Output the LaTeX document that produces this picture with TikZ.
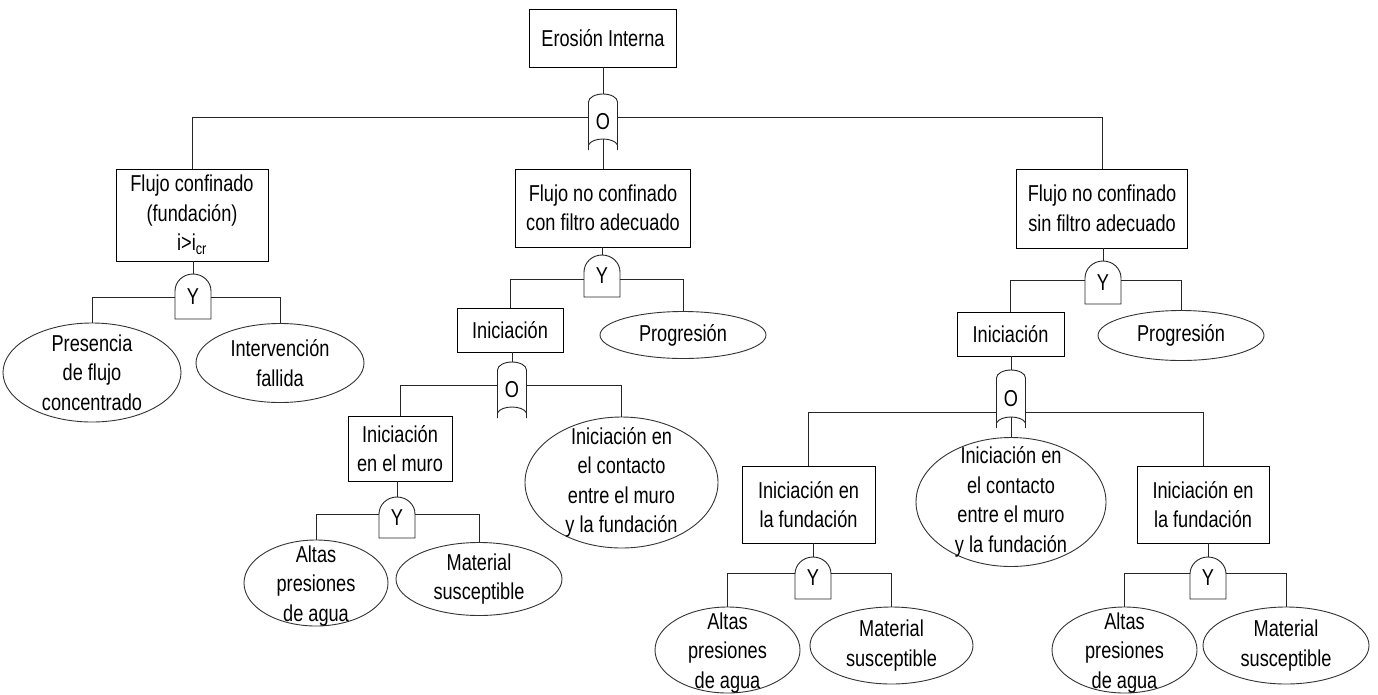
\documentclass[tikz,border=0pt]{standalone}
\usepackage{fontspec}
\setmainfont[FakeStretch=0.79]{Liberation Sans}
\usetikzlibrary{shapes.geometric,calc}

\tikzset{
  base/.style={font=\fontsize{23}{29.5}\selectfont, align=center, inner sep=0pt},
  evbox/.style={base, draw=black, rectangle, line width=0.9pt},
  evell/.style={draw=black!80, ellipse, inner sep=0pt, line width=0.9pt},
  evtxt/.style={base},
  link/.style={line width=0.9pt, draw=black!85},
  gateshape/.style={line width=0.9pt, draw=black!85},
  gatelbl/.style={base, rectangle, inner sep=0pt},
}

% AND gate: name, centre x, top y, bottom y (flat base, domed top)
\newcommand{\andgate}[4]{%
  \pgfmathsetmacro\gxl{#2-18}%
  \pgfmathsetmacro\gxr{#2+18}%
  \pgfmathsetmacro\gys{#3+17}%
  \pgfmathsetmacro\gyk{#3+17-9.4}%
  \pgfmathsetmacro\gxa{#2-9.9}%
  \pgfmathsetmacro\gxb{#2+9.9}%
  \draw[gateshape] (\gxl,#4) -- (\gxl,\gys)
    .. controls (\gxl,\gyk) and (\gxa,#3) .. (#2,#3)
    .. controls (\gxb,#3) and (\gxr,\gyk) .. (\gxr,\gys) -- (\gxr,#4) -- cycle;
  \node[gatelbl, minimum width=36pt, minimum height={(#4)-(#3)}] (#1)
    at (#2,{((#3)+(#4))/2}) {Y};
}

% OR gate: name, centre x, top y, bottom y (domed top, concave base with short tails)
\newcommand{\orgate}[4]{%
  \pgfmathsetmacro\gxl{#2-14.5}%
  \pgfmathsetmacro\gxr{#2+14.5}%
  \pgfmathsetmacro\gys{#3+8}%
  \pgfmathsetmacro\gyk{#3+8-4.4}%
  \pgfmathsetmacro\gxa{#2-8}%
  \pgfmathsetmacro\gxb{#2+8}%
  \pgfmathsetmacro\gyt{#4-5}%
  \pgfmathsetmacro\gyc{#4-13}%
  \pgfmathsetmacro\gxc{#2-11}%
  \pgfmathsetmacro\gxd{#2+11}%
  \draw[gateshape] (\gxl,#4) -- (\gxl,\gys)
    .. controls (\gxl,\gyk) and (\gxa,#3) .. (#2,#3)
    .. controls (\gxb,#3) and (\gxr,\gyk) .. (\gxr,\gys) -- (\gxr,#4);
  \draw[gateshape] (\gxr,\gyt) .. controls (\gxd,\gyc) and (\gxc,\gyc) .. (\gxl,\gyt);
  \node[gatelbl, minimum width=29pt, minimum height={(#4)-(#3)}] (#1)
    at (#2,{((#3)+(#4))/2}) {O};
}

\begin{document}
\begin{tikzpicture}[x=1pt,y=-1pt]
\fill[white] (0,0) rectangle (1378,694);
\useasboundingbox (0,0) rectangle (1378,694);

% ---- events (rectangles) ----
\node[evbox, minimum width=147pt, minimum height=58pt] (E)  at (603,38)    {Erosión Interna};
\node[evbox, minimum width=152pt, minimum height=92pt] (F1) at (192,215)   {Flujo confinado\\(fundación)\\i>i\textsubscript{cr}};
\node[evbox, minimum width=175pt, minimum height=78pt] (F2) at (603,208)   {Flujo no confinado\\con filtro adecuado};
\node[evbox, minimum width=171pt, minimum height=79pt] (F3) at (1102,208.5){Flujo no confinado\\sin filtro adecuado};
\node[evbox, minimum width=106pt, minimum height=44pt] (I2) at (510,330)   {Iniciación};
\node[evbox, minimum width=107pt, minimum height=44pt] (I3) at (1010.5,334){Iniciación};
\node[evbox, minimum width=104pt, minimum height=65pt] (M)  at (400,448.5) {Iniciación\\en el muro};
\node[evbox, minimum width=133pt, minimum height=77pt] (FL) at (808.5,504.5){Iniciación en\\la fundación};
\node[evbox, minimum width=132pt, minimum height=77pt] (FR) at (1203,504.5){Iniciación en\\la fundación};

% ---- basic events (ellipses) ----
\node[evell, minimum width=178pt, minimum height=99pt]  (P1)  at (92,372.5)   {};
\node[evell, minimum width=168pt, minimum height=79pt]  (P2)  at (280,363)    {};
\node[evell, minimum width=166pt, minimum height=47pt]  (PG2) at (683,335)    {};
\node[evell, minimum width=166pt, minimum height=50pt]  (PG3) at (1181,335.5) {};
\node[evell, minimum width=193pt, minimum height=131pt] (C2)  at (621.5,482.5){};
\node[evell, minimum width=190pt, minimum height=129pt] (C3)  at (1011,502)   {};
\node[evell, minimum width=144pt, minimum height=86pt]  (A1)  at (316,583)    {};
\node[evell, minimum width=166pt, minimum height=73pt]  (S1)  at (479,579)    {};
\node[evell, minimum width=145pt, minimum height=86pt]  (A2)  at (727.5,650)  {};
\node[evell, minimum width=163pt, minimum height=77pt]  (S2)  at (891.5,645.5){};
\node[evell, minimum width=145pt, minimum height=86pt]  (A3)  at (1124.5,650) {};
\node[evell, minimum width=166pt, minimum height=77pt]  (S3)  at (1286,645.5) {};

\node[evtxt] at (P1)  {Presencia\\de flujo\\concentrado};
\node[evtxt] at (P2)  {Intervención\\fallida};
\node[evtxt] at (PG2) {Progresión};
\node[evtxt] at (PG3) {Progresión};
\node[evtxt] at (C2)  {Iniciación en\\el contacto\\entre el muro\\y la fundación};
\node[evtxt] at (C3)  {Iniciación en\\el contacto\\entre el muro\\y la fundación};
\node[evtxt] at ([yshift=-3pt]A1.center) {Altas\\presiones\\de agua};
\node[evtxt] at (S1)  {Material\\susceptible};
\node[evtxt] at ([yshift=-3pt]A2.center) {Altas\\presiones\\de agua};
\node[evtxt] at (S2)  {Material\\susceptible};
\node[evtxt] at ([yshift=-3pt]A3.center) {Altas\\presiones\\de agua};
\node[evtxt] at (S3)  {Material\\susceptible};

% ---- gates ----
\orgate{G0}{603}{94}{150}
\andgate{G1}{193}{274}{319}
\andgate{GA2}{602}{255}{297}
\orgate{G2}{512}{362}{418}
\andgate{GM}{397}{497}{538}
\andgate{GA3}{1103}{261}{304}
\orgate{G3}{1011}{370}{428}
\andgate{GL}{813}{557}{599}
\andgate{GR}{1208}{557}{599}

% branch levels of each gate
\coordinate (b0)  at (603,117);
\coordinate (b1)  at (193,297);
\coordinate (bA2) at (602,279);
\coordinate (b2)  at (512,385);
\coordinate (bM)  at (397,514);
\coordinate (bA3) at (1103,280);
\coordinate (b3)  at (1011,412);
\coordinate (bL)  at (813,573);
\coordinate (bR)  at (1208,573);

% ---- connectors ----
\draw[link] (E.south) -- (G0.north);
\draw[link] (b0 -| G0.west) -| (F1.north);
\draw[link] (b0 -| G0.east) -| (F3.north);
\draw[link] ([yshift=11pt]G0.south) -- (F2.north);

\draw[link] (F1.south -| G1.north) -- (G1.north);
\draw[link] (b1 -| G1.west) -| (P1.north);
\draw[link] (b1 -| G1.east) -| (P2.north);

\draw[link] (F2.south -| GA2.north) -- (GA2.north);
\draw[link] (bA2 -| GA2.west) -| (I2.north);
\draw[link] (bA2 -| GA2.east) -| (PG2.north);

\draw[link] (I2.south -| G2.north) -- (G2.north);
\draw[link] (b2 -| G2.west) -| (M.north);
\draw[link] (b2 -| G2.east) -| (C2.north);

\draw[link] (M.south -| GM.north) -- (GM.north);
\draw[link] (bM -| GM.west) -| (A1.north);
\draw[link] (bM -| GM.east) -| (S1.north);

\draw[link] (F3.south -| GA3.north) -- (GA3.north);
\draw[link] (bA3 -| GA3.west) -| (I3.north);
\draw[link] (bA3 -| GA3.east) -| (PG3.north);

\draw[link] (I3.south -| G3.north) -- (G3.north);
\draw[link] (b3 -| G3.west) -| (FL.north);
\draw[link] (b3 -| G3.east) -| (FR.north);
\draw[link] ([yshift=11pt]G3.south) -- (C3.north);

\draw[link] (FL.south -| GL.north) -- (GL.north);
\draw[link] (bL -| GL.west) -| (A2.north);
\draw[link] (bL -| GL.east) -| (S2.north);

\draw[link] (FR.south -| GR.north) -- (GR.north);
\draw[link] (bR -| GR.west) -| (A3.north);
\draw[link] (bR -| GR.east) -| (S3.north);
\end{tikzpicture}
\end{document}
